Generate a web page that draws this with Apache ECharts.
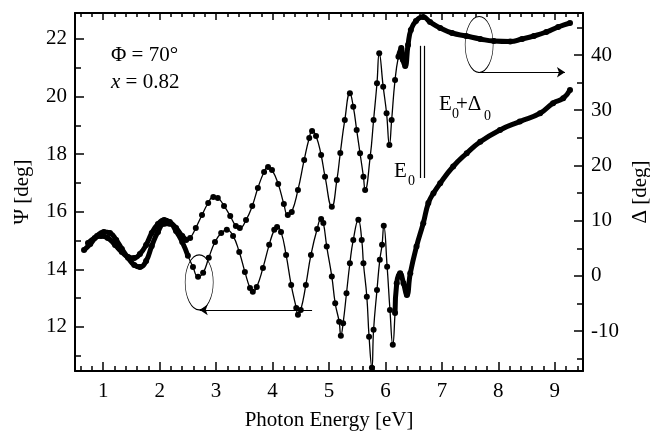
<!DOCTYPE html>
<html>
<head>
<meta charset="utf-8">
<script src="https://cdn.jsdelivr.net/npm/echarts@6/dist/echarts.min.js"></script>
<style>
  html, body { margin: 0; padding: 0; background: #fff; }
  #chart { width: 650px; height: 433px; }
</style>
</head>
<body>
<div id="chart"></div>
<script>
// Psi (left axis)
var psiEnergy = [0.66, 0.77, 0.89, 1.01, 1.12, 1.23, 1.33, 1.44, 1.55, 1.65, 1.76, 1.86, 1.97, 2.08, 2.18, 2.29, 2.40, 2.50, 2.59, 2.68,
  2.77, 2.87, 2.98, 3.09, 3.19, 3.30, 3.41, 3.51, 3.60, 3.65, 3.72, 3.83, 3.94, 4.03, 4.08, 4.15, 4.24, 4.33, 4.42, 4.45,
  4.50, 4.59, 4.68, 4.79, 4.86, 4.90, 4.96, 5.05, 5.11, 5.18, 5.21, 5.25, 5.31, 5.37, 5.43, 5.52, 5.58, 5.61, 5.67, 5.71,
  5.76, 5.79, 5.85, 5.90, 5.94, 5.97, 6.03, 6.08, 6.13, 6.17, 6.20, 6.26, 6.32, 6.38, 6.44, 6.55, 6.67, 6.76, 6.85, 6.97,
  7.20, 7.44, 7.68, 8.03, 8.38, 8.74, 8.97, 9.15, 9.27]
var psiValue = [14.67, 14.88, 15.16, 15.30, 15.26, 15.02, 14.71, 14.40, 14.15, 14.08, 14.29, 14.81, 15.30, 15.58, 15.58, 15.33, 14.95, 14.47, 14.08, 13.74,
  13.88, 14.40, 14.95, 15.26, 15.37, 15.16, 14.60, 13.91, 13.35, 13.22, 13.39, 14.05, 14.85, 15.37, 15.47, 15.30, 14.50, 13.46, 12.66, 12.42,
  12.59, 13.46, 14.50, 15.40, 15.75, 15.61, 14.79, 13.75, 12.82, 12.18, 11.69, 12.13, 13.17, 14.21, 15.02, 15.72, 15.02, 14.21, 13.05, 11.66,
  10.58, 11.90, 13.28, 14.33, 14.85, 15.51, 14.09, 12.59, 11.38, 12.48, 13.52, 13.86, 13.52, 13.11, 13.86, 14.79, 15.60, 16.30, 16.64, 16.99,
  17.57, 18.03, 18.43, 18.84, 19.13, 19.42, 19.77, 19.94, 20.23]

// Delta (right axis)
var deltaEnergy = [0.73, 0.85, 0.96, 1.08, 1.21, 1.33, 1.44, 1.55, 1.65, 1.76, 1.86, 1.97, 2.08, 2.18, 2.29, 2.40, 2.47, 2.54, 2.64, 2.75,
  2.86, 2.95, 3.03, 3.14, 3.25, 3.35, 3.42, 3.53, 3.64, 3.74, 3.85, 3.92, 3.99, 4.10, 4.20, 4.27, 4.34, 4.45, 4.56, 4.65,
  4.70, 4.77, 4.86, 4.93, 5.05, 5.14, 5.20, 5.28, 5.37, 5.43, 5.49, 5.55, 5.61, 5.64, 5.73, 5.79, 5.85, 5.89, 5.96, 6.02,
  6.07, 6.11, 6.17, 6.23, 6.28, 6.31, 6.35, 6.40, 6.45, 6.54, 6.67, 6.79, 6.97, 7.18, 7.43, 7.68, 7.92, 8.21, 8.42, 8.63,
  8.85, 9.06, 9.27]
var deltaValue = [5.97, 6.88, 7.24, 6.88, 5.61, 4.34, 3.44, 3.26, 3.98, 5.61, 7.78, 9.41, 10.14, 9.77, 8.69, 7.24, 6.52, 6.88, 8.69, 11.04,
  13.21, 14.30, 14.12, 12.67, 10.86, 9.05, 8.69, 10.14, 12.67, 15.93, 18.82, 19.73, 19.19, 16.65, 13.03, 11.04, 11.58, 15.57, 21.00, 24.98,
  26.24, 25.34, 21.90, 17.97, 12.54, 17.38, 22.26, 28.24, 33.07, 30.64, 26.43, 22.21, 17.97, 15.57, 21.59, 28.24, 34.88, 40.31, 34.26, 29.45,
  23.71, 28.24, 35.48, 39.69, 41.27, 39.10, 38.01, 41.81, 44.52, 46.15, 46.88, 45.97, 44.89, 43.98, 43.44, 42.90, 42.53, 42.44, 42.90, 43.44,
  44.16, 45.07, 45.79]

var energyTicks = [1, 2, 3, 4, 5, 6, 7, 8, 9]
var psiTicks = [12, 14, 16, 18, 20, 22]
var psiMinor = [11, 13, 15, 17, 19, 21]
var deltaTicks = [-10, 0, 10, 20, 30, 40]
var deltaMinor = [-15, -5, 5, 15, 25, 35, 45]
var energyMinor = []
for (var k = 3; k <= 47; k++) {
  if (k % 5 !== 0) energyMinor.push(+(k * 0.2).toFixed(1))
}

var FONT = 'Liberation Serif'
var chart = echarts.init(document.getElementById('chart'), null, { renderer: 'canvas' })

function pts(xs, ys, lo, hi) {
  var out = []
  xs.forEach(function(x, i) {
    if (x >= lo && x <= hi) out.push([x, ys[i]])
  })
  return out
}

function xAx(pos, ticks, len, major) {
  return {
    type: 'value', position: pos, min: 0.5, max: 9.5,
    axisLine: { show: major, onZero: false, lineStyle: { color: '#000', width: 2 } },
    axisTick: { show: true, inside: true, length: len, customValues: ticks, lineStyle: { color: '#000', width: 1.5 } },
    axisLabel: { show: major && pos === 'bottom', customValues: ticks, margin: 10, color: '#000', fontFamily: FONT, fontSize: 21 },
    splitLine: { show: false }
  }
}
function yAx(pos, min, max, ticks, len, major) {
  return {
    type: 'value', position: pos, min: min, max: max,
    axisLine: { show: major, onZero: false, lineStyle: { color: '#000', width: 2 } },
    axisTick: { show: true, inside: true, length: len, customValues: ticks, lineStyle: { color: '#000', width: 1.5 } },
    axisLabel: { show: major, customValues: ticks, margin: 8, color: '#000', fontFamily: FONT, fontSize: 21 },
    splitLine: { show: false }
  }
}

var xAxes = [xAx('bottom', energyTicks, 9, true), xAx('bottom', energyMinor, 5, false),
  xAx('top', energyTicks, 7, true), xAx('top', energyMinor, 4, false)]
xAxes[0].name = 'Photon Energy [eV]'
xAxes[0].nameLocation = 'middle'
xAxes[0].nameGap = 39
xAxes[0].nameTextStyle = { color: '#000', fontFamily: FONT, fontSize: 21 }

var yAxes = [yAx('left', 10.47, 22.9, psiTicks, 9, true), yAx('left', 10.47, 22.9, psiMinor, 6, false),
  yAx('right', -17.2, 47.6, deltaTicks, 9, true), yAx('right', -17.2, 47.6, deltaMinor, 6, false)]
yAxes[0].name = 'Ψ [deg]'
yAxes[2].name = 'Δ [deg]'
;[0, 2].forEach(function(i) {
  yAxes[i].nameLocation = 'middle'
  yAxes[i].nameRotate = 90
  yAxes[i].nameGap = i === 0 ? 42 : 46
  yAxes[i].nameTextStyle = { color: '#000', fontFamily: FONT, fontSize: 21 }
})

var thin = { color: '#000', width: 1.3 }
var thick = { color: '#000', width: 5 }
var plainMark = { silent: true, symbol: 'none', label: { show: false }, lineStyle: { color: '#000', width: 1.2, type: 'solid' } }

chart.setOption({
  animation: false,
  backgroundColor: '#fff',
  grid: { left: 75, right: 67, top: 13, bottom: 62, outerBoundsMode: 'none', containLabel: false },
  xAxis: xAxes,
  yAxis: yAxes,
  series: [
    {
      name: 'Psi', type: 'line', xAxisIndex: 0, yAxisIndex: 0, smooth: 0.5,
      data: pts(psiEnergy, psiValue, 0, 10),
      symbol: 'circle', symbolSize: 6, itemStyle: { color: '#000' }, lineStyle: thin,
      markLine: {
        silent: true, symbol: ['none', 'arrow'], symbolSize: 8, label: { show: false },
        lineStyle: { color: '#000', width: 1.2, type: 'solid' },
        data: [
          [{ coord: [4.70, 12.59] }, { coord: [2.71, 12.59] }]
        ]
      }
    },
    { type: 'line', xAxisIndex: 0, yAxisIndex: 0, smooth: 0.5, data: pts(psiEnergy, psiValue, 0, 2.55), showSymbol: false, lineStyle: thick },
    { type: 'line', xAxisIndex: 0, yAxisIndex: 0, smooth: 0.5, data: pts(psiEnergy, psiValue, 6.15, 10), showSymbol: false, lineStyle: thick },
    {
      name: 'Delta', type: 'line', xAxisIndex: 0, yAxisIndex: 2, smooth: 0.5,
      data: pts(deltaEnergy, deltaValue, 0, 10),
      symbol: 'circle', symbolSize: 6, itemStyle: { color: '#000' }, lineStyle: thin,
      markLine: {
        silent: true, symbol: ['none', 'arrow'], symbolSize: 8, label: { show: false },
        lineStyle: { color: '#000', width: 1.2, type: 'solid' },
        data: [
          [{ coord: [7.64, 36.87] }, { coord: [9.18, 36.87] }]
        ]
      }
    },
    { type: 'line', xAxisIndex: 0, yAxisIndex: 2, smooth: 0.5, data: pts(deltaEnergy, deltaValue, 0, 2.5), showSymbol: false, lineStyle: thick },
    { type: 'line', xAxisIndex: 0, yAxisIndex: 2, smooth: 0.5, data: pts(deltaEnergy, deltaValue, 6.2, 10), showSymbol: false, lineStyle: thick },
    {
      // E0 and E0+Delta0 markers
      type: 'line', xAxisIndex: 0, yAxisIndex: 0, data: [],
      markLine: Object.assign({}, plainMark, {
        data: [
          [{ coord: [6.625, 21.76] }, { coord: [6.625, 17.17] }],
          [{ coord: [6.69, 21.76] }, { coord: [6.69, 17.17] }]
        ]
      })
    }
  ]
})

var c1 = chart.convertToPixel({ xAxisIndex: 0, yAxisIndex: 0 }, [2.70, 13.55])
var c2 = chart.convertToPixel({ xAxisIndex: 0, yAxisIndex: 2 }, [7.66, 41.9])
function txt(x, y, s, size, extra) {
  return {
    type: 'text', x: x, y: y, silent: true,
    style: Object.assign({ text: s, fill: '#000', fontFamily: FONT, fontSize: size, verticalAlign: 'middle', textVerticalAlign: 'middle' }, extra || {})
  }
}
chart.setOption({
  graphic: [
    { type: 'circle', x: c1[0], y: c1[1], scaleX: 0.51, shape: { cx: 0, cy: 0, r: 27.5 }, silent: true,
      style: { fill: 'none', stroke: '#000', lineWidth: 1.2, strokeNoScale: true } },
    { type: 'circle', x: c2[0], y: c2[1], scaleX: 0.5, shape: { cx: 0, cy: 0, r: 28 }, silent: true,
      style: { fill: 'none', stroke: '#000', lineWidth: 1.2, strokeNoScale: true } },
    txt(111, 55, 'Φ = 70°', 21),
    txt(111, 82, '{i|x} = 0.82', 21, { rich: { i: { fontStyle: 'italic', fontFamily: FONT, fontSize: 21 } } }),
    txt(394, 171, 'E', 21),
    txt(408, 181, '0', 14),
    txt(439, 104, 'E', 21),
    txt(452, 114, '0', 14),
    txt(456, 104, '+Δ', 21),
    txt(484, 116, '0', 14)
  ]
})
</script>
</body>
</html>
